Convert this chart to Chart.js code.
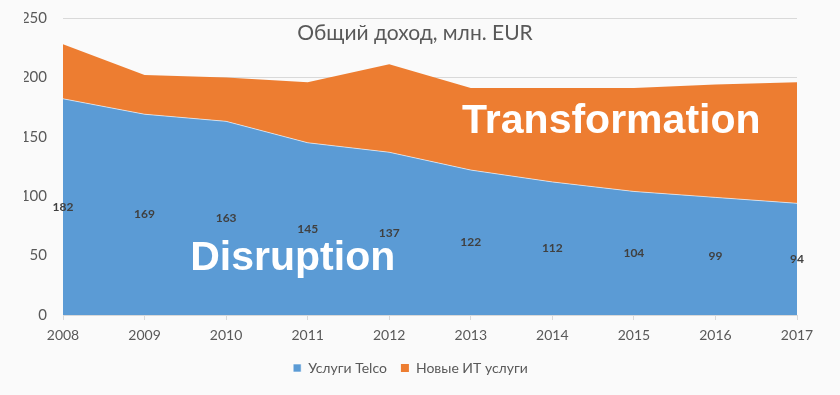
<!DOCTYPE html>
<html>
<head>
<meta charset="utf-8">
<script src="https://cdn.jsdelivr.net/npm/chart.js@4.4.0/dist/chart.umd.min.js"></script>
<style>
  html, body { margin: 0; padding: 0; background: #fafafa; }
  canvas { display: block; }
</style>
</head>
<body>
<canvas id="chart" width="840" height="395"></canvas>
<script>
// data
var years = ['2008', '2009', '2010', '2011', '2012', '2013', '2014', '2015', '2016', '2017'];
var telco = [182, 169, 163, 145, 137, 122, 112, 104, 99, 94];
var newIt = [46, 33, 37, 51, 74, 69, 79, 87, 95, 102];
var yTicks = [0, 50, 100, 150, 200, 250];

var FONT = 'Lato, "Open Sans", sans-serif';
var GREY = '#595959';

// подписи значений в середине синей области + крупные надписи
var overlayPlugin = {
    id: 'overlay',
    afterDatasetsDraw: function (chart) {
        var ctx = chart.ctx;
        var xs = chart.scales.x, ys = chart.scales.y;
        var area = chart.chartArea;
        ctx.save();
        ctx.textAlign = 'center';
        ctx.textBaseline = 'middle';

        ctx.font = 'bold 12px ' + FONT;
        ctx.fillStyle = '#404040';
        telco.forEach(function (v, i) {
            ctx.fillText(String(v), xs.getPixelForValue(i), ys.getPixelForValue(v / 2));
        });

        ctx.fillStyle = '#ffffff';
        ctx.font = 'bold 41px "Liberation Sans", Arial, sans-serif';
        ctx.fillText('Transformation', area.left + (area.right - area.left) * 0.747, ys.getPixelForValue(163));
        ctx.fillText('Disruption', area.left + (area.right - area.left) * 0.313, ys.getPixelForValue(47));

        ctx.font = '21px ' + FONT;
        ctx.fillStyle = GREY;
        ctx.fillText('Общий доход, млн. EUR', 415, 33);
        ctx.restore();
    }
};

new Chart(document.getElementById('chart'), {
    type: 'line',
    data: {
        labels: years,
        datasets: [
            {
                label: 'Услуги Telco',
                data: telco,
                backgroundColor: '#5b9bd5',
                borderColor: 'rgba(255,255,255,0.6)',
                borderWidth: 1,
                fill: 'origin',
                pointRadius: 0,
                tension: 0
            },
            {
                label: 'Новые ИТ услуги',
                data: newIt,
                backgroundColor: '#ed7d31',
                borderColor: '#ed7d31',
                borderWidth: 0,
                fill: '-1',
                pointRadius: 0,
                tension: 0
            }
        ]
    },
    options: {
        responsive: false,
        animation: false,
        devicePixelRatio: 1,
        layout: { padding: { left: 24, right: 43, top: 18, bottom: 10 } },
        plugins: {
            legend: {
                position: 'bottom',
                labels: {
                    boxWidth: 8,
                    boxHeight: 8,
                    padding: 14,
                    color: GREY,
                    font: { family: FONT, size: 14 }
                }
            },
            tooltip: { enabled: false },
            title: { display: false }
        },
        scales: {
            x: {
                offset: false,
                grid: {
                    drawOnChartArea: false,
                    drawTicks: true,
                    tickLength: 5,
                    color: '#d9d9d9'
                },
                border: { color: '#d9d9d9' },
                ticks: {
                    color: GREY,
                    font: { family: FONT, size: 14 },
                    maxRotation: 0,
                    padding: 7
                },
                afterFit: function (scale) { scale.height = 32; }
            },
            y: {
                stacked: true,
                min: 0,
                max: 250,
                afterBuildTicks: function (scale) {
                    scale.ticks = yTicks.map(function (v) { return { value: v }; });
                },
                grid: { color: '#d9d9d9', drawTicks: false },
                border: { display: false },
                ticks: {
                    color: GREY,
                    font: { family: FONT, size: 15 },
                    padding: 16
                },
                afterFit: function (scale) {
                    scale.width = 39;
                    scale.paddingTop = 0;
                    scale.paddingBottom = 0;
                }
            }
        }
    },
    plugins: [overlayPlugin]
});
</script>
</body>
</html>
